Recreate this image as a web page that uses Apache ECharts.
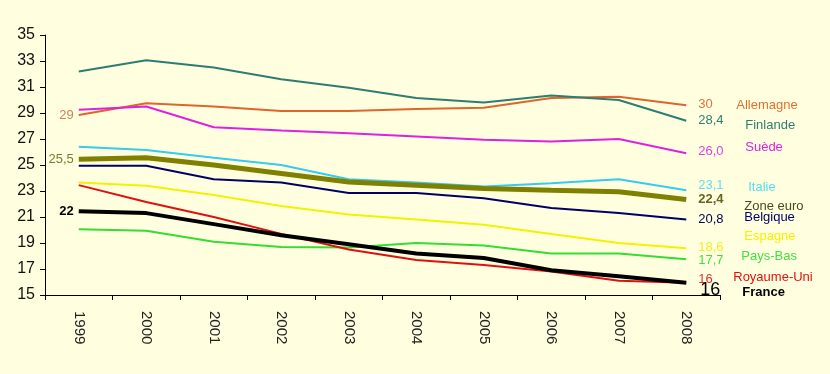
<!DOCTYPE html>
<html>
<head>
<meta charset="utf-8">
<script src="https://cdn.jsdelivr.net/npm/echarts@6/dist/echarts.min.js"></script>
<style>
html,body{margin:0;padding:0;background:#FFFFE0;}
#c{width:830px;height:374px;}
</style>
</head>
<body>
<div id="c"></div>
<script>
var years = ['1999','2000','2001','2002','2003','2004','2005','2006','2007','2008'];
var yTicks = [15, 35, 2];

var names = ['Allemagne','Finlande','Suède','Italie','Belgique','Espagne','Pays-Bas','Royaume-Uni','Zone euro','France'];
var allemagne  = [28.85, 29.75, 29.5, 29.15, 29.15, 29.3, 29.4, 30.15, 30.25, 29.6];
var finlande   = [32.2, 33.05, 32.5, 31.6, 30.95, 30.15, 29.8, 30.35, 30.0, 28.4];
var suede      = [29.25, 29.5, 27.9, 27.65, 27.45, 27.2, 26.95, 26.8, 27.0, 25.9];
var italie     = [26.4, 26.15, 25.55, 25.0, 23.9, 23.65, 23.35, 23.6, 23.9, 23.05];
var belgique   = [24.95, 24.95, 23.9, 23.65, 22.85, 22.85, 22.45, 21.7, 21.3, 20.8];
var espagne    = [23.65, 23.4, 22.7, 21.85, 21.2, 20.8, 20.4, 19.7, 19.0, 18.6];
var paysBas    = [20.05, 19.95, 19.1, 18.7, 18.65, 19.0, 18.8, 18.2, 18.2, 17.75];
var royaumeUni = [23.45, 22.15, 21.0, 19.7, 18.5, 17.7, 17.3, 16.8, 16.1, 15.95];
var zoneEuro   = [25.45, 25.55, 25.0, 24.35, 23.7, 23.45, 23.2, 23.05, 22.95, 22.35];
var france     = [21.45, 21.3, 20.45, 19.6, 18.9, 18.2, 17.85, 16.9, 16.45, 15.95];

var endValueLabels = ['30','28,4','26,0','23,1','20,8','18,6','17,7','16','22,4','16'];
var startLabels = {0:'29', 8:'25,5', 9:'22'};

var seriesData = [allemagne, finlande, suede, italie, belgique, espagne, paysBas, royaumeUni, zoneEuro, france];
var colors = ['#E0642C','#2E7D72','#E020E0','#33CCEE','#000066','#F2F200','#33DD33','#E01010','#808000','#000000'];
var widths = [2,2,2,2,2,2,2,2,5,4];
var valueColors = ['#E07040','#2E7D72','#E040E0','#66DDEE','#000055','#F0F020','#44DD44','#E03030','#666620','#000000'];
var valueStyle = [
  {dy:-1},{dy:0},{dy:-2},{dy:-5},{dy:0},{dy:-1},{dy:1},{dy:-3},{dy:0, bold:true, ls:2},{dy:7, size:18, dx:9}
];
var nameColors = ['#E07030','#2E7D72','#E020E0','#55DDEE','#000066','#F5F000','#44DD44','#E01010','#4A4A20','#000000'];
var nameStyle = [
  {dx:45, dy:0},{dx:54, dy:5},{dx:54, dy:-6},{dx:57, dy:-3},{dx:53, dy:-2},{dx:53, dy:-12},{dx:50, dy:-3},{dx:42, dy:-5},{dx:53, dy:7, ls:2},{dx:51, dy:10, bold:true, ls:1}
];
var startColors = {0:'#C8845A', 8:'#7A7A30', 9:'#000000'};

var series = seriesData.map(function(arr, i){
  var last = arr.length - 1;
  var vs = valueStyle[i];
  var ns = nameStyle[i];
  var data = arr.map(function(v, j){
    var item = {value: v};
    if (j === last) {
      item.label = {
        show: true, position: 'right', distance: 5,
        offset: [vs.dx || 7, vs.dy],
        formatter: endValueLabels[i],
        color: valueColors[i],
        fontFamily: 'Liberation Sans, Arial, sans-serif',
        fontSize: vs.size || 13,
        fontWeight: vs.bold ? 'bold' : 'normal',
        letterSpacing: vs.ls || 0
      };
    } else if (j === 0 && startLabels[i] !== undefined) {
      item.label = {
        show: true, position: 'left', distance: 5,
        formatter: startLabels[i],
        color: startColors[i],
        fontFamily: 'Liberation Sans, Arial, sans-serif',
        fontSize: 13,
        fontWeight: i === 9 ? 'bold' : 'normal',
        letterSpacing: i === 9 ? 2 : 1
      };
    }
    return item;
  });
  return {
    name: names[i],
    type: 'line',
    data: data,
    symbol: 'circle',
    symbolSize: 0,
    showSymbol: true,
    label: {show: false},
    lineStyle: {color: colors[i], width: widths[i]},
    itemStyle: {color: colors[i]},
    z: 2 + i,
    animation: false,
    markPoint: {
      symbol: 'circle', symbolSize: 0,
      animation: false,
      data: [{coord: [last, arr[last]], value: names[i],
        label: {
          show: true, position: 'right', distance: 5,
          offset: [ns.dx, ns.dy],
          formatter: names[i],
          color: nameColors[i],
          fontFamily: 'Liberation Sans, Arial, sans-serif',
          fontSize: 13,
          fontWeight: ns.bold ? 'bold' : 'normal',
          letterSpacing: ns.ls || 0
        }
      }]
    }
  };
});

var chart = echarts.init(document.getElementById('c'), null, {renderer: 'canvas'});
chart.setOption({
  backgroundColor: '#FFFFE0',
  animation: false,
  grid: {left: 45, right: 110, top: 35, bottom: 79, containLabel: false},
  xAxis: {
    type: 'category',
    data: years,
    boundaryGap: true,
    axisLine: {lineStyle: {color: '#000', width: 1}},
    axisTick: {show: true, length: 5, lineStyle: {color: '#000'}},
    axisLabel: {rotate: -90, margin: 16, fontSize: 15, color: '#222', fontFamily: 'Liberation Sans, Arial, sans-serif'},
    splitLine: {show: false}
  },
  yAxis: {
    type: 'value',
    min: yTicks[0], max: yTicks[1], interval: yTicks[2],
    axisLine: {show: true, lineStyle: {color: '#000', width: 1}},
    axisTick: {show: true, length: 5, lineStyle: {color: '#000'}},
    axisLabel: {fontSize: 16, color: '#111', margin: 10, fontFamily: 'Liberation Sans, Arial, sans-serif'},
    splitLine: {show: false}
  },
  series: series
});
</script>
</body>
</html>
